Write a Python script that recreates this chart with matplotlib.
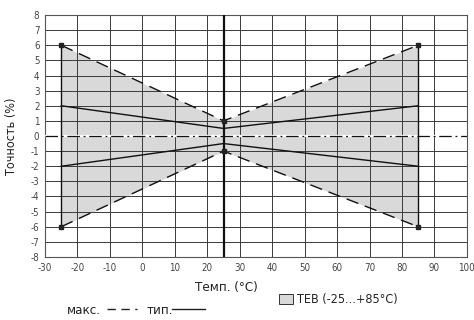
import numpy as np
import matplotlib
matplotlib.use('Agg')
from matplotlib import pyplot as plt
from matplotlib.patches import Rectangle
from matplotlib.lines import Line2D

plt.rcParams['font.family'] = ['DejaVu Sans']
plt.rcParams['font.stretch'] = 'condensed'
plt.rcParams['axes.unicode_minus'] = False

# data
temp = [-25, 25, 85]
max_upper = [6, 1, 6]
max_lower = [-6, -1, -6]
typ_upper = [2, 0.5, 2]
typ_lower = [-2, -0.5, -2]
ref_temp = 25

xticks = list(range(-30, 101, 10))
yticks = list(range(-8, 9))

fig = plt.figure(figsize=(4.74, 3.2), dpi=100)
ax = fig.add_axes([0.095, 0.197, 0.89, 0.756])

ax.fill_between(temp, max_lower, max_upper, color='#d9d9da', zorder=1, linewidth=0)

for x in xticks:
    ax.axvline(x, color='#3a3a3a', lw=0.7, zorder=2)
for y in yticks:
    ax.axhline(y, color='#3a3a3a', lw=0.7, zorder=2)

ax.axhline(0, color='white', lw=1.6, zorder=3)
ax.axhline(0, color='#111111', lw=0.9, zorder=4, dashes=(10, 3, 1.5, 3))
ax.axvline(ref_temp, color='#111111', lw=1.6, zorder=4)

ax.plot(temp, max_upper, color='#111111', lw=1.0, dashes=(9, 5), zorder=5)
ax.plot(temp, max_lower, color='#111111', lw=1.0, dashes=(9, 5), zorder=5)
ax.plot(temp, typ_upper, color='#111111', lw=1.0, zorder=5)
ax.plot(temp, typ_lower, color='#111111', lw=1.0, zorder=5)
ax.plot([temp[0], temp[0]], [max_lower[0], max_upper[0]], color='#111111', lw=1.0, zorder=5)
ax.plot([temp[-1], temp[-1]], [max_lower[-1], max_upper[-1]], color='#111111', lw=1.0, zorder=5)
ax.plot(temp, max_upper, ls='none', marker='s', ms=3.3, color='#222222', zorder=6)
ax.plot(temp, max_lower, ls='none', marker='s', ms=3.3, color='#222222', zorder=6)

ax.set_xlim(-30, 100)
ax.set_ylim(-8, 8)
ax.set_xticks(xticks)
ax.set_yticks(yticks)
ax.tick_params(length=0, labelsize=7, pad=4, colors='#444444')
for s in ax.spines.values():
    s.set_color('#555555')
    s.set_linewidth(0.8)

ax.set_ylabel('Точность (%)', fontsize=9, color='#222222', labelpad=9)
fig.text(0.477, 0.1, 'Темп. (°C)', fontsize=9.5, color='#222222', ha='center', va='center')

# legend drawn below the chart
fig.text(0.141, 0.031, 'макс.', fontsize=9.5, color='#222222', va='center')
fig.add_artist(Line2D([0.226, 0.289], [0.035, 0.035], color='#222222', lw=1.0, dashes=(6, 4)))
fig.text(0.31, 0.031, 'тип.', fontsize=9.5, color='#222222', va='center')
fig.add_artist(Line2D([0.363, 0.432], [0.035, 0.035], color='#222222', lw=1.0))
fig.add_artist(Rectangle((0.589, 0.05), 0.029, 0.031, facecolor='#d9d9da', edgecolor='#333333', lw=0.7))
fig.text(0.626, 0.064, 'TEB (-25...+85°C)', fontsize=9, color='#222222', va='center')

plt.savefig('out.png', dpi=100)
